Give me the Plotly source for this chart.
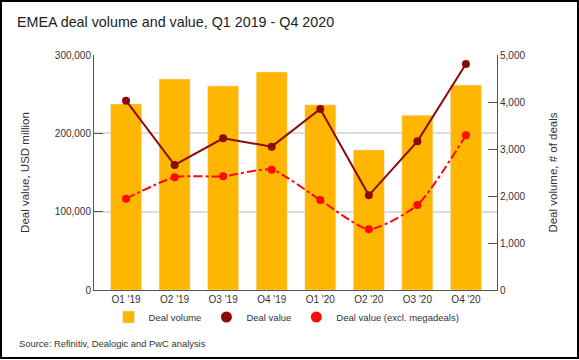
import plotly.graph_objects as go

quarters = ["Q1 '19", "Q2 '19", "Q3 '19", "Q4 '19", "Q1 '20", "Q2 '20", "Q3 '20", "Q4 '20"]
deal_volume = [3960, 4490, 4340, 4640, 3940, 2980, 3720, 4360]
deal_value = [241700, 159600, 193700, 183000, 231000, 120900, 189800, 288500]
deal_value_excl = [116600, 143900, 145200, 153600, 114900, 77500, 108500, 197500]

W, H = 579, 360
ML, MR, MT, MB = 94, 82, 55, 70

FONT = "Liberation Sans, Arial, sans-serif"
BAR_C = "#FFB600"
DV_C = "#8B0A0A"
EX_C = "#FF0A0A"
AX_C = "#555555"

fig = go.Figure()

fig.add_trace(go.Bar(x=quarters, y=deal_volume, name="Deal volume", marker_color=BAR_C,
                     yaxis="y", showlegend=True))
fig.add_trace(go.Scatter(x=quarters, y=deal_value, mode="lines+markers", name="Deal value",
                         line=dict(color=DV_C, width=2), marker=dict(size=8, color=DV_C),
                         yaxis="y2", showlegend=False))
fig.add_trace(go.Scatter(x=quarters, y=deal_value_excl, mode="lines+markers",
                         name="Deal value (excl. megadeals)",
                         line=dict(color=EX_C, width=2, dash="dashdot", shape="spline", smoothing=0.6),
                         marker=dict(size=8, color=EX_C), yaxis="y2", showlegend=False))
# legend-only entries (marker only)
fig.add_trace(go.Scatter(x=[None], y=[None], mode="markers", name="Deal value",
                         marker=dict(size=11, color=DV_C), yaxis="y2"))
fig.add_trace(go.Scatter(x=[None], y=[None], mode="markers", name="Deal value (excl. megadeals)",
                         marker=dict(size=11, color=EX_C), yaxis="y2"))

pw = W - ML - MR
ph = H - MT - MB

fig.update_layout(
    width=W, height=H,
    margin=dict(l=ML, r=MR, t=MT, b=MB, autoexpand=False),
    paper_bgcolor="white", plot_bgcolor="white",
    font=dict(family=FONT, size=10, color="#333333"),
    bargap=0.36,
    xaxis=dict(showline=True, linecolor=AX_C, linewidth=1, ticks="", showgrid=False,
               range=[-0.66, 7.64], tickfont=dict(size=10, color="#333333")),
    yaxis=dict(side="right", range=[0, 5000], tickvals=[0, 1000, 2000, 3000, 4000, 5000],
               tickformat=",", showgrid=False, showline=True, linecolor=AX_C, linewidth=1,
               ticks="inside", ticklen=9, tickcolor=AX_C, zeroline=False,
               title=dict(text="Deal volume, # of deals", font=dict(size=11.5, color="#333333"), standoff=24)),
    yaxis2=dict(side="left", overlaying="y", range=[0, 300000],
                tickvals=[0, 100000, 200000, 300000], tickformat=",",
                showgrid=True, gridcolor="#DDDDDD", gridwidth=1.5,
                showline=True, linecolor=AX_C, linewidth=1,
                ticks="inside", ticklen=9, tickcolor=AX_C, zeroline=False,
                title=dict(text="Deal value, USD million", font=dict(size=11.5, color="#333333"), standoff=22)),
    legend=dict(orientation="h", x=0.495, xanchor="center", xref="container",
                y=1 - 317 / H, yanchor="middle", yref="container",
                font=dict(size=9.5, color="#333333"), tracegroupgap=0),
    title=dict(text="EMEA deal volume and value, Q1 2019 - Q4 2020", x=17 / W, xanchor="left",
               xref="container", y=1 - 22 / H, yanchor="middle", yref="container",
               font=dict(size=14.3, color="#222222")),
    annotations=[dict(text="Source: Refinitiv, Dealogic and PwC analysis", xref="paper", yref="paper",
                      x=(17 - ML) / pw, y=-(343 - MT - ph) / ph, xanchor="left", yanchor="middle",
                      showarrow=False, font=dict(size=9.4, color="#333333"))],
    shapes=[dict(type="rect", xref="paper", yref="paper",
                 x0=(1 - ML) / pw, x1=(578 - ML) / pw,
                 y0=-(358 - MT - ph) / ph, y1=(MT - 1) / ph + 1,
                 line=dict(color="black", width=2), fillcolor="rgba(0,0,0,0)", layer="above")],
)

fig.write_html("out.html", config={"displayModeBar": False},
               post_script="document.body.style.margin='0px';")
